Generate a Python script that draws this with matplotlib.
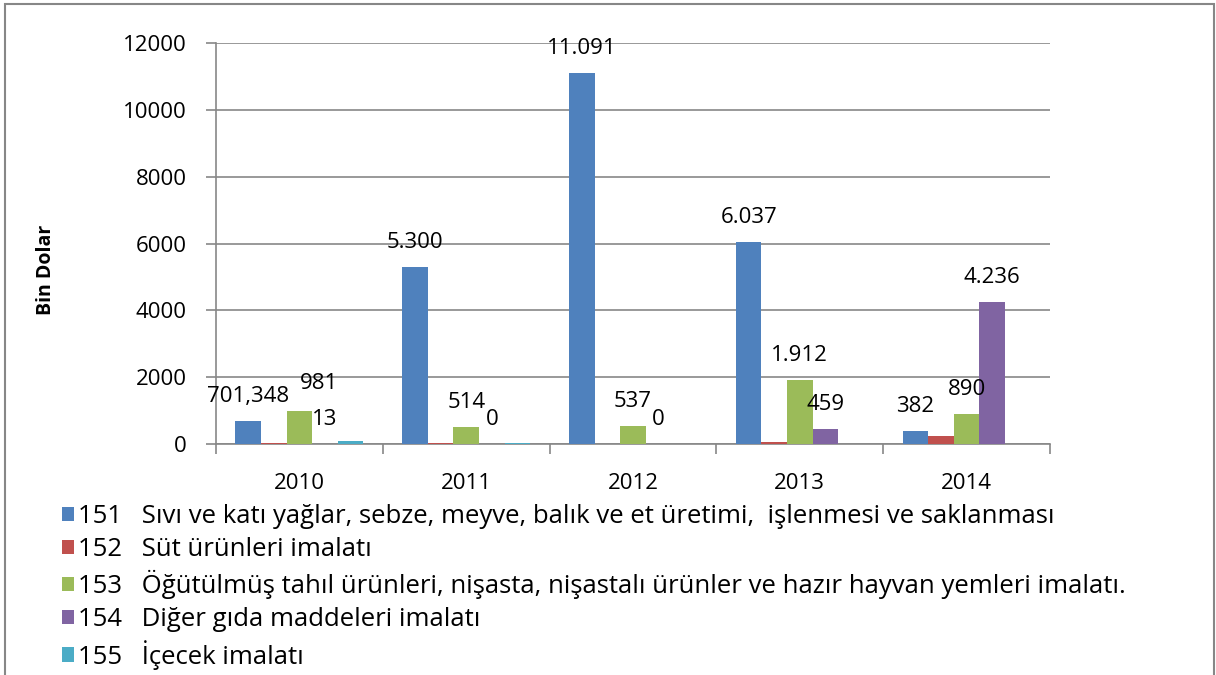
import numpy as np
import matplotlib
matplotlib.use("Agg")
import matplotlib.pyplot as plt
from matplotlib.patches import Rectangle

plt.rcParams['font.family'] = ['Open Sans', 'DejaVu Sans']

# data
years = ["2010", "2011", "2012", "2013", "2014"]
codes = ["151", "152", "153", "154", "155"]
names = [
    "Sıvı ve katı yağlar, sebze, meyve, balık ve et üretimi,  işlenmesi ve saklanması",
    "Süt ürünleri imalatı",
    "Öğütülmüş tahıl ürünleri, nişasta, nişastalı ürünler ve hazır hayvan yemleri imalatı.",
    "Diğer gıda maddeleri imalatı",
    "İçecek imalatı",
]
s151 = [701.348, 5300, 11091, 6037, 382]
s152 = [40, 40, 0, 50, 240]
s153 = [981, 514, 537, 1912, 890]
s154 = [13, 0, 0, 459, 4236]
s155 = [80, 15, 0, 0, 0]
lab151 = ["701,348", "5.300", "11.091", "6.037", "382"]
lab153 = ["981", "514", "537", "1.912", "890"]
lab154 = ["13", "0", "0", "459", "4.236"]

series = [s151, s152, s153, s154, s155]
labels = [lab151, None, lab153, lab154, None]
colors = ["#4F81BD", "#C0504D", "#9BBB59", "#8064A2", "#4BACC6"]
grey = "#878787"

W, H = 1216, 675
fig = plt.figure(figsize=(W / 100, H / 100), dpi=100)
ax = fig.add_axes([216 / W, 1 - 444 / H, (1050 - 216) / W, (444 - 43) / H])

x = np.arange(len(years))
bw = 0.1533
bars = []
for i, vals in enumerate(series):
    b = ax.bar(x + (i - 2) * bw, vals, bw, color=colors[i], zorder=3, linewidth=0)
    bars.append(b)
    if labels[i] is None:
        continue
    for j, rect in enumerate(b):
        dx, dy = 0, 19
        if i == 2 and j == 0:   # hand-moved label in the original
            dx, dy = 20, 22
        ax.annotate(labels[i][j], (rect.get_x() + rect.get_width() / 2, rect.get_height()),
                    xytext=(dx, dy), textcoords='offset pixels',
                    ha='center', va='baseline', fontsize=16, color='black', zorder=4)

ax.set_xlim(-0.5, 4.5)
ax.set_ylim(0, 12000)
ax.set_yticks(np.arange(0, 12001, 2000))
ax.set_yticklabels([str(v) for v in range(0, 12001, 2000)], fontsize=16)
ax.set_xticks(x)
ax.set_xticklabels(years, fontsize=16)
ax.set_xticks(np.arange(-0.5, 5, 1), minor=True)
ax.tick_params(axis='x', which='major', length=0, pad=21)
ax.tick_params(axis='x', which='minor', length=7, width=1.2, color=grey, direction='out')
ax.tick_params(axis='y', length=7, width=1.2, color=grey, direction='out', pad=14)

ax.grid(axis='y', color=grey, linewidth=1.2, zorder=0)
ax.set_axisbelow(True)
for side in ['top', 'right']:
    ax.spines[side].set_visible(False)
for side in ['left', 'bottom']:
    ax.spines[side].set_color(grey)
    ax.spines[side].set_linewidth(1.2)

fig.text(46 / W, 1 - 270 / H, "Bin Dolar", rotation=90, ha='center', va='center',
         fontsize=14, fontweight='bold')

leg_labels = [c + "\u2002 " + n for c, n in zip(codes, names)]
fig.legend(bars, leg_labels, loc='upper left', bbox_to_anchor=(62 / W, 1 - 504 / H),
           frameon=False, fontsize=18.5, handlelength=0.47, handleheight=0.5,
           handletextpad=0.15, labelspacing=0.31, borderaxespad=0, borderpad=0)

# outer frame of the chart area
fig.patches.append(Rectangle((5 / W, -0.05), (1214 - 5) / W, 1.05 - 4 / H,
                             transform=fig.transFigure, fill=False,
                             edgecolor=grey, linewidth=1.5))

fig.savefig("out.png", dpi=100)
